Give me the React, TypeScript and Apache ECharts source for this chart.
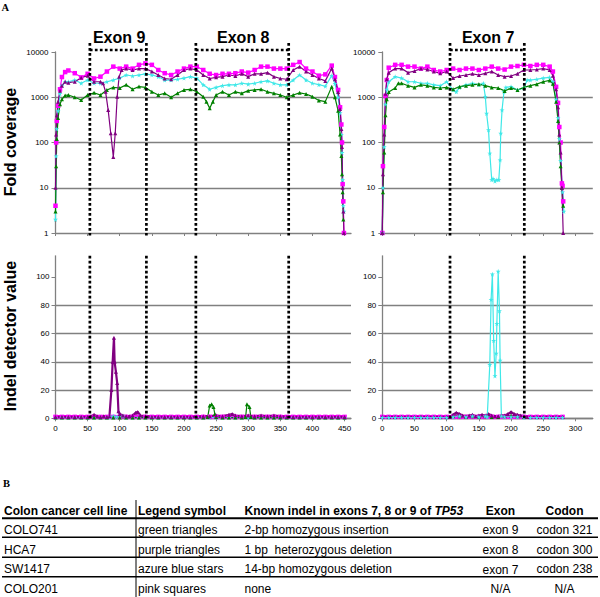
import React, { useEffect, useRef } from 'react';
import * as echarts from 'echarts';

type P = [number, number];

// ---------- Panel A: fold coverage (bp position, coverage) ----------
// left amplicon (exons 9 and 8)
const covLPink: P[] = [[0,4],[1,100],[2,300],[4,650],[7,1500],[10,2800],[15,3600],[20,3900],[30,3400],[40,2750],[50,3300],[60,2600],[70,2850],[80,3700],[90,4750],[100,4300],[110,4750],[120,4300],[130,5200],[140,5600],[150,5200],[160,4000],[170,3400],[180,3100],[190,3700],[200,4300],[210,4750],[220,4750],[230,4000],[240,3300],[250,3100],[260,3300],[270,3300],[280,3400],[290,3700],[300,3500],[310,4000],[320,4750],[330,4750],[340,4300],[350,4300],[360,4300],[370,5200],[380,6000],[390,4300],[400,3700],[410,3000],[420,3200],[430,5000],[435,2800],[440,1450],[443,600],[445,250],[446,100],[447,12],[448,5],[449,1]];
const covLCyan: P[] = [[0,2],[1,50],[2,200],[4,500],[7,1200],[10,1800],[15,2200],[20,2200],[30,2400],[40,2040],[50,2400],[60,2040],[70,2040],[80,2200],[90,2400],[100,2650],[110,3100],[120,2950],[130,3100],[140,3300],[150,3100],[160,2850],[170,2400],[180,2400],[190,2500],[200,2650],[210,2850],[220,2650],[230,1880],[240,1500],[250,1650],[260,1800],[270,1880],[280,1880],[290,2040],[300,1950],[310,2040],[320,2200],[330,2300],[340,2040],[350,1880],[360,1880],[370,2400],[380,3100],[390,2400],[400,2040],[410,1900],[420,1750],[430,3000],[435,2000],[440,1000],[443,450],[445,150],[446,60],[447,15],[448,4],[449,3]];
const covLGreen: P[] = [[0,3],[1,30],[2,120],[4,350],[7,700],[10,900],[15,1100],[20,1120],[30,1000],[40,870],[50,1120],[60,1250],[70,1120],[80,1450],[90,1650],[100,1600],[110,1880],[120,1500],[130,1720],[140,1650],[150,1320],[160,1120],[170,1220],[180,1000],[190,1220],[200,1450],[210,1500],[220,1320],[230,1030],[235,800],[240,570],[245,800],[250,1120],[260,1320],[270,1120],[280,1320],[290,1220],[300,1400],[310,1450],[320,1500],[330,1320],[340,1220],[350,1120],[360,1000],[370,1120],[380,1250],[390,1180],[400,1030],[410,850],[420,800],[430,1700],[435,1000],[440,500],[443,150],[445,50],[446,20],[447,8],[448,2]];
const covLPurple: P[] = [[0,10],[1,150],[2,400],[4,800],[7,1400],[10,1800],[15,2200],[20,2100],[30,2200],[40,2700],[50,3000],[60,2200],[70,2200],[74,2040],[78,1320],[82,520],[86,160],[90,48],[93,160],[96,1030],[99,2850],[103,4000],[110,4300],[120,4000],[130,4300],[140,4300],[150,3700],[160,3100],[170,2600],[180,2500],[190,3100],[200,4000],[210,4300],[220,4000],[230,3100],[240,2600],[250,2750],[260,2850],[270,3100],[280,2950],[290,3300],[300,2850],[310,3300],[320,3300],[330,3500],[340,2850],[350,2600],[360,2500],[370,4000],[380,4750],[390,3700],[400,3100],[410,2600],[420,2300],[430,4300],[435,2500],[440,1300],[443,550],[445,200],[446,80],[447,10],[448,3],[449,1]];

// right amplicon (exon 7)
const covRPink: P[] = [[0,1],[1,30],[3,220],[5,1070],[7,2400],[10,4500],[20,5200],[30,5200],[40,4750],[50,4750],[60,4300],[70,4750],[80,4000],[90,3700],[100,4000],[110,4300],[120,4000],[130,4300],[140,4300],[150,4000],[160,4300],[170,4750],[180,4300],[190,4100],[200,4750],[210,4900],[220,5200],[230,4900],[240,5200],[250,5200],[260,4750],[265,3700],[270,1700],[273,750],[275,220],[277,100],[279,12.5],[280,11],[281,5]];
const covRCyan: P[] = [[0,1],[1,10],[3,80],[5,700],[7,1500],[10,2200],[20,2850],[30,2650],[40,2200],[50,2200],[60,2040],[70,2040],[80,1880],[90,1800],[100,2200],[110,1450],[115,1320],[120,1650],[130,1880],[140,2040],[150,1880],[157,2040],[160,1030],[162,440],[165,190],[167,58],[170,15],[172,16],[175,14],[178,15],[181,15],[183,41],[184,160],[186,520],[189,1320],[192,1650],[200,1715],[210,1450],[220,1600],[225,2400],[230,2400],[240,2500],[250,2650],[260,2750],[265,2200],[270,900],[273,350],[275,120],[277,40],[280,8],[282,3]];
const covRGreen: P[] = [[0,1],[1,8],[3,60],[5,400],[7,900],[10,1300],[20,1600],[25,2040],[30,2040],[40,1800],[50,1650],[60,1880],[70,1800],[80,1650],[90,1600],[100,1650],[110,1500],[120,1715],[130,1800],[140,1880],[150,1950],[160,1800],[170,1650],[180,1600],[190,1380],[200,1600],[210,1450],[220,1650],[230,1800],[240,1950],[250,2200],[260,2350],[265,2000],[270,800],[273,300],[275,100],[277,30],[279,10],[281,4]];
const covRPurple: P[] = [[0,1],[1,20],[3,150],[5,1200],[7,2500],[10,3500],[20,4300],[30,4300],[40,3500],[50,3800],[60,4300],[70,4100],[80,3700],[90,3380],[100,3700],[110,2650],[120,2950],[130,3100],[140,3300],[150,3100],[160,3380],[170,3700],[180,3100],[190,2850],[200,2950],[210,3300],[220,4000],[230,4000],[240,4100],[250,4300],[260,4000],[265,3000],[270,1500],[273,600],[275,150],[277,60],[279,10],[281,1]];

// ---------- Panel A: indel detector value ----------
const indelLPink: P[] = [[0,1],[10,1],[20,1],[30,1],[40,1],[50,1],[60,1],[70,1],[80,1],[90,1],[100,1],[110,1],[120,1],[130,1],[140,1],[150,1],[160,1],[170,1],[180,1],[190,1],[200,1],[210,1],[220,1],[230,1],[240,1],[250,1],[260,1],[270,1],[280,1],[290,1],[300,1],[310,1],[320,1],[330,1],[340,1],[350,1],[360,1],[370,1],[380,1],[390,1],[400,1],[410,1],[420,1],[430,1],[440,1],[450,1]];
const indelLCyan: P[] = [[0,0.5],[10,0.5],[20,0.5],[30,0.5],[40,0.5],[50,0.5],[60,0.5],[70,0.5],[80,0.5],[85,1],[90,1.5],[95,1],[100,2],[105,1.5],[110,0.5],[120,0.5],[130,0.5],[140,0.5],[150,0.5],[160,0.5],[170,0.5],[180,0.5],[190,0.5],[200,0.5],[210,0.5],[220,0.5],[230,0.5],[240,0.5],[250,0.5],[260,0.5],[270,0.5],[280,0.5],[290,0.5],[300,0.5],[310,0.5],[320,0.5],[330,0.5],[340,0.5],[350,0.5],[360,0.5],[370,0.5],[380,0.5],[390,0.5],[400,0.5],[410,0.5],[420,0.5],[430,0.5],[440,0.5],[450,0.5]];
const indelLGreen: P[] = [[0,0.5],[10,0.5],[20,0.5],[30,0.5],[40,0.5],[50,0.5],[60,0.5],[70,0.5],[80,0.5],[90,0.5],[100,0.5],[110,0.5],[120,0.5],[130,0.5],[140,0.5],[150,0.5],[160,0.5],[170,0.5],[180,0.5],[190,0.5],[200,0.5],[210,0.5],[220,0.5],[230,0.5],[237,1],[240,9],[243,10],[246,8],[248,3],[250,1],[260,0.5],[270,0.5],[280,0.5],[290,0.5],[296,1],[298,10],[302,8],[304,1],[310,0.5],[320,0.5],[330,0.5],[340,0.5],[350,0.5],[360,0.5],[370,0.5],[380,0.5],[390,0.5],[400,0.5],[410,0.5],[420,0.5],[430,0.5],[440,0.5],[450,0.5]];
const indelLPurple: P[] = [[0,1],[10,1],[20,1],[30,1],[40,1],[50,1],[55,1.5],[60,2.5],[65,1.5],[70,1],[75,1.5],[80,1],[84,1.5],[87,20],[89,40],[91,57],[92,40],[94,33],[96,25],[98,5],[100,3],[105,2],[110,1.5],[115,1.5],[120,2],[125,4],[128,4.5],[132,2],[140,1.5],[150,1],[160,1],[170,1],[180,1],[190,1],[200,1],[210,1],[220,1],[230,1.5],[240,1.5],[250,2],[260,1.5],[270,2.5],[275,3],[280,2],[290,1.5],[300,2],[310,1.5],[320,2],[330,1.5],[340,2],[350,1.5],[360,1],[370,1],[380,1],[390,1],[400,1],[410,1],[420,1],[430,1],[440,1],[450,1]];

const indelRPink: P[] = [[0,1],[10,1],[20,1],[30,1],[40,1],[50,1],[60,1],[70,1],[80,1],[90,1],[100,1],[110,1],[120,1],[130,1],[140,1],[150,1],[160,1],[170,1],[180,1],[190,1],[200,1],[210,1],[220,1],[230,1],[240,1],[250,1],[260,1],[270,1],[280,1]];
const indelRCyan: P[] = [[0,0.5],[10,0.5],[20,0.5],[30,0.5],[40,0.5],[50,0.5],[60,0.5],[70,0.5],[80,0.5],[90,0.5],[100,0.5],[110,1],[120,1.5],[130,1],[140,1.5],[150,1],[160,1.5],[163,1],[167,38],[169,84],[171,102],[173,55],[175,30],[177,46],[178,67],[180,104],[182,76],[183,41],[185,1.5],[190,1],[200,1],[210,1],[220,0.5],[230,0.5],[240,0.5],[250,0.5],[260,0.5],[270,0.5],[280,0.5]];
const indelRGreen: P[] = [[0,1],[10,1],[20,1],[30,1],[40,1],[50,1],[60,1],[70,1],[80,1],[90,1],[100,1],[110,1.5],[120,1.5],[130,1],[140,1.5],[150,1],[160,1.5],[170,1],[180,1],[190,1.5],[200,2],[210,1.5],[220,1],[230,1],[240,1],[250,1],[260,1],[270,1],[280,1]];
const indelRPurple: P[] = [[0,1],[10,1],[20,1],[30,1],[40,1],[50,1],[60,1],[70,1],[80,1],[90,1],[100,1],[105,1],[110,2.5],[115,4],[120,3],[125,2],[130,1.5],[135,2],[140,2.5],[145,1.5],[150,2],[155,2.5],[160,2],[165,3],[170,2],[175,1.5],[180,1.5],[185,2],[190,2],[195,3],[200,4.5],[205,3],[210,2.5],[215,2],[220,1.5],[225,1],[230,1],[240,1],[250,1],[260,1],[270,1],[280,1]];

// axis ticks
const xTicksLeft = [0, 50, 100, 150, 200, 250, 300, 350, 400, 450];
const xTicksRight = [0, 50, 100, 150, 200, 250, 300];
const indelTicks = [0, 20, 40, 60, 80, 100];

// exon boundaries (bp positions)
const exonsLeft = [
  { name: 'Exon 9', start: 53.5, end: 141.5 },
  { name: 'Exon 8', start: 218.5, end: 363 },
];
const exonsRight = [{ name: 'Exon 7', start: 105.2, end: 220.6 }];

// Panel B table
const tableHeader = ['Colon cancer cell line', 'Legend symbol', 'Known indel in exons 7, 8 or 9 of ', 'Exon', 'Codon'];
const cellLines = ['COLO741', 'HCA7', 'SW1417', 'COLO201'];
const legendSymbols = ['green triangles', 'purple triangles', 'azure blue stars', 'pink squares'];
const knownIndels = ['2-bp homozygous insertion', '1 bp  heterozygous deletion', '14-bp homozygous deletion', 'none'];
const exonCol = ['exon 9', 'exon 8', 'exon 7', 'N/A'];
const codonCol = ['codon 321', 'codon 300', 'codon 238', 'N/A'];

const FONT = '"Liberation Sans", Arial, sans-serif';
const SERIF = '"Liberation Serif", "Times New Roman", serif';
const PINK = '#FF00FF';
const PURPLE = '#800080';
const CYAN = '#3FE8E8';
const GREEN = '#008000';
const GRAY = '#808080';
const STAR = 'path://M50,0 L61,35 L98,35 L68,57 L79,91 L50,70 L21,91 L32,57 L2,35 L39,35 Z';

const GRIDS = [
  { left: 55.5, top: 52, width: 295.5, height: 181 },
  { left: 382.3, top: 52, width: 210.5, height: 181 },
  { left: 55.5, top: 255.8, width: 295.5, height: 162.5 },
  { left: 382.3, top: 255.8, width: 210.5, height: 162.5 },
];

function line(name: string, data: P[], gi: number, color: string, symbol: string, size: number, lw: number) {
  return {
    type: 'line', name, data, xAxisIndex: gi, yAxisIndex: gi,
    symbol, symbolSize: size, showSymbol: true, showAllSymbol: true,
    lineStyle: { color, width: lw }, itemStyle: { color },
    silent: true, animation: false,
  };
}

function buildOption() {
  const xAxis = GRIDS.map((_, i) => {
    const ticks = i % 2 === 0 ? xTicksLeft : xTicksRight;
    return {
      type: 'value', gridIndex: i, min: 0, max: i % 2 === 0 ? 460 : 327, interval: 50,
      axisLine: { show: true, onZero: false, lineStyle: { color: GRAY, width: 1.3 } },
      axisTick: { show: true, length: 3, customValues: ticks, lineStyle: { color: GRAY, width: 1 } },
      axisLabel: { show: i >= 2, customValues: ticks, fontSize: 8, margin: 6, color: '#000', fontFamily: FONT },
      splitLine: { show: false },
    };
  });
  const yAxis = GRIDS.map((_, i) => {
    if (i < 2) {
      return {
        type: 'log', logBase: 10, gridIndex: i, min: 1, max: 10000,
        axisLine: { show: true, lineStyle: { color: GRAY, width: 1.3 } },
        axisTick: { show: true, length: 4, lineStyle: { color: GRAY } },
        axisLabel: { fontSize: 8, margin: 7, color: '#000', fontFamily: FONT, formatter: (v: number) => String(Math.round(v)) },
        splitLine: { show: true, showMinLine: false, showMaxLine: false, lineStyle: { color: GRAY, width: 1.3 } },
      };
    }
    return {
      type: 'value', gridIndex: i, min: 0, max: 115, interval: 20,
      axisLine: { show: true, lineStyle: { color: GRAY, width: 1.3 } },
      axisTick: { show: true, length: 4, customValues: indelTicks, lineStyle: { color: GRAY } },
      axisLabel: { fontSize: 8, margin: 6, color: '#000', fontFamily: FONT, customValues: indelTicks },
      splitLine: { show: true, showMaxLine: false, lineStyle: { color: GRAY, width: 1.3 } },
    };
  });
  const series = [
    line('COLO201', covLPink, 0, PINK, 'rect', 4.5, 1.2),
    line('SW1417', covLCyan, 0, CYAN, STAR, 5, 1.2),
    line('COLO741', covLGreen, 0, GREEN, 'triangle', 4, 1.2),
    line('HCA7', covLPurple, 0, PURPLE, 'triangle', 4, 1.2),
    line('COLO201', covRPink, 1, PINK, 'rect', 4.5, 1.2),
    line('SW1417', covRCyan, 1, CYAN, STAR, 5, 1.2),
    line('COLO741', covRGreen, 1, GREEN, 'triangle', 4, 1.2),
    line('HCA7', covRPurple, 1, PURPLE, 'triangle', 4, 1.2),
    line('COLO201', indelLPink, 2, PINK, 'rect', 4.5, 4),
    line('SW1417', indelLCyan, 2, CYAN, STAR, 5, 1.5),
    line('COLO741', indelLGreen, 2, GREEN, 'triangle', 4, 1.2),
    line('HCA7', indelLPurple, 2, PURPLE, 'triangle', 4, 2.2),
    line('COLO201', indelRPink, 3, PINK, 'rect', 4.5, 4),
    line('COLO741', indelRGreen, 3, GREEN, 'triangle', 4, 1.2),
    line('HCA7', indelRPurple, 3, PURPLE, 'triangle', 4, 2.2),
    line('SW1417', indelRCyan, 3, CYAN, STAR, 5, 1.2),
  ];
  return {
    animation: false,
    backgroundColor: '#fff',
    grid: GRIDS.map((g) => ({ ...g, containLabel: false })),
    xAxis, yAxis, series,
  };
}

function buildGraphics(chart: echarts.ECharts) {
  const els: any[] = [];
  const dot = { stroke: '#000', lineWidth: 2.7, lineDash: [2.7, 2.3] };
  const addExons = (exons: { name: string; start: number; end: number }[], topAxis: number, botAxis: number) => {
    exons.forEach((ex) => {
      const x1 = chart.convertToPixel({ xAxisIndex: topAxis }, ex.start) as number;
      const x2 = chart.convertToPixel({ xAxisIndex: topAxis }, ex.end) as number;
      const b1 = chart.convertToPixel({ xAxisIndex: botAxis }, ex.start) as number;
      const b2 = chart.convertToPixel({ xAxisIndex: botAxis }, ex.end) as number;
      const gt = GRIDS[topAxis];
      const gb = GRIDS[botAxis];
      [x1, x2].forEach((x) => els.push({ type: 'line', shape: { x1: x, y1: gt.top - 9, x2: x, y2: gt.top + gt.height + 2.5 }, style: dot, silent: true, z: 10 }));
      [b1, b2].forEach((x) => els.push({ type: 'line', shape: { x1: x, y1: gb.top, x2: x, y2: gb.top + gb.height }, style: dot, silent: true, z: 10 }));
      els.push({ type: 'line', shape: { x1: x1, y1: gt.top - 2, x2: x2, y2: gt.top - 2 }, style: dot, silent: true, z: 10 });
      els.push({
        type: 'text', x: (x1 + x2) / 2 + 1, y: 37.5, silent: true, z: 10,
        style: { text: ex.name, fontSize: 16, fontWeight: 'bold', fontFamily: FONT, fill: '#000', align: 'center', verticalAlign: 'middle' },
      });
    });
  };
  addExons(exonsLeft, 0, 2);
  addExons(exonsRight, 1, 3);

  // axis titles
  els.push({ type: 'text', x: 10.5, y: 142, rotation: Math.PI / 2, silent: true,
    style: { text: 'Fold coverage', fontSize: 16, fontWeight: 'bold', fontFamily: FONT, fill: '#000', align: 'center', verticalAlign: 'middle' } });
  els.push({ type: 'text', x: 10.5, y: 336, rotation: Math.PI / 2, silent: true,
    style: { text: 'Indel detector value', fontSize: 16, fontWeight: 'bold', fontFamily: FONT, fill: '#000', align: 'center', verticalAlign: 'middle' } });

  // panel letters
  els.push({ type: 'text', x: 1.5, y: 7, silent: true, style: { text: 'A', fontSize: 10.5, fontWeight: 'bold', fontFamily: SERIF, fill: '#000', align: 'left', verticalAlign: 'middle' } });
  els.push({ type: 'text', x: 3, y: 483, silent: true, style: { text: 'B', fontSize: 10.5, fontWeight: 'bold', fontFamily: SERIF, fill: '#000', align: 'left', verticalAlign: 'middle' } });

  // table
  const colX = [4, 138, 244.5];
  const headerY = 510.5;
  const rowY = [529.8, 549.5, 569, 589];
  const hStyle = { fontSize: 12, fontWeight: 'bold', fontFamily: FONT, fill: '#000', verticalAlign: 'middle' };
  const rStyle = { fontSize: 12, fontFamily: FONT, fill: '#000', verticalAlign: 'middle' };
  els.push({ type: 'text', x: colX[0], y: headerY, silent: true, style: { ...hStyle, text: tableHeader[0], align: 'left' } });
  els.push({ type: 'text', x: colX[1], y: headerY, silent: true, style: { ...hStyle, text: tableHeader[1], align: 'left' } });
  els.push({ type: 'text', x: colX[2], y: headerY, silent: true, style: {
    text: '{a|' + tableHeader[2] + '}{b|TP53}', align: 'left', verticalAlign: 'middle',
    rich: {
      a: { fontSize: 12, fontWeight: 'bold', fontFamily: FONT, fill: '#000', color: '#000' },
      b: { fontSize: 12, fontWeight: 'bold', fontStyle: 'italic', fontFamily: FONT, fill: '#000', color: '#000' },
    } } });
  els.push({ type: 'text', x: 500.5, y: headerY, silent: true, style: { ...hStyle, text: tableHeader[3], align: 'center' } });
  els.push({ type: 'text', x: 564.5, y: headerY, silent: true, style: { ...hStyle, text: tableHeader[4], align: 'center' } });
  cellLines.forEach((c, i) => {
    els.push({ type: 'text', x: colX[0], y: rowY[i], silent: true, style: { ...rStyle, text: c, align: 'left' } });
    els.push({ type: 'text', x: colX[1], y: rowY[i], silent: true, style: { ...rStyle, text: legendSymbols[i], align: 'left' } });
    els.push({ type: 'text', x: colX[2], y: rowY[i], silent: true, style: { ...rStyle, text: knownIndels[i], align: 'left' } });
    els.push({ type: 'text', x: 500.5, y: rowY[i] + (i === 2 ? 1 : 0), silent: true, style: { ...rStyle, text: exonCol[i], align: 'center' } });
    els.push({ type: 'text', x: 564.5, y: rowY[i], silent: true, style: { ...rStyle, text: codonCol[i], align: 'center' } });
  });
  const lineYs = [518.3, 537.3, 557.3, 576.8];
  lineYs.forEach((y, i) => els.push({ type: 'line', silent: true, shape: { x1: 2, y1: y, x2: 598, y2: y }, style: { stroke: '#000', lineWidth: i === 0 ? 2 : 1.5 } }));
  els.push({ type: 'line', silent: true, shape: { x1: 136, y1: 500, x2: 136, y2: 597 }, style: { stroke: '#000', lineWidth: 1 } });
  return els;
}

export default function App() {
  const ref = useRef<HTMLDivElement>(null);
  useEffect(() => {
    const chart = echarts.init(ref.current!, null, { renderer: 'svg' });
    chart.setOption(buildOption() as any);
    chart.setOption({ graphic: buildGraphics(chart) } as any);
    return () => chart.dispose();
  }, []);
  return <div ref={ref} style={{ position: 'absolute', left: 0, top: 0, width: 600, height: 597, background: '#fff' }} />;
}
